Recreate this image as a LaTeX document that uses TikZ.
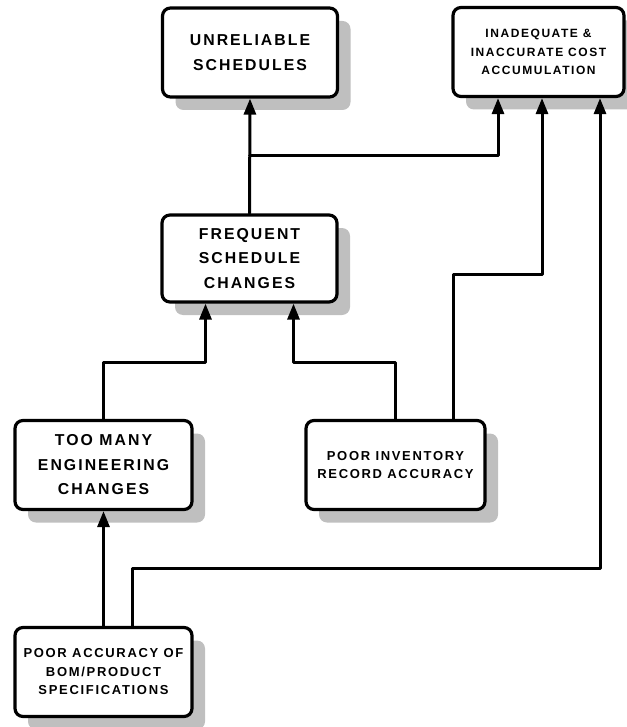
\documentclass[tikz,border=0pt]{standalone}
\usepackage{fontspec}
\setmainfont{Liberation Sans}
\newfontfamily\spacedfont{Liberation Sans}[LetterSpace=13]
\usetikzlibrary{arrows.meta,calc,shadows}

\begin{document}
\begin{tikzpicture}[x=1pt,y=-1pt, line cap=round, line join=round]

% ---------- styles ----------
\tikzset{
  prob/.style={draw, line width=3.2pt, rounded corners=8pt, fill=white, align=center,
    inner sep=2pt, minimum width=175pt, minimum height=89pt,
    drop shadow={shadow xshift=13pt, shadow yshift=-13pt, fill=black!25, opacity=1}},
  bigtxt/.style={font=\spacedfont\bfseries\fontsize{15.8}{24.5}\selectfont},
  smalltxt/.style={font=\spacedfont\bfseries\fontsize{13}{18.5}\selectfont},
  costtxt/.style={font=\spacedfont\bfseries\fontsize{12}{18.5}\selectfont},
  arr/.style={line width=3pt, -{Triangle[length=16pt,width=12pt]}},
}

% ---------- canvas ----------
\useasboundingbox (0,0) rectangle (626,727);

% ---------- problem boxes ----------
\node[prob, bigtxt] (unr) at (250,52.5) {UNRELIABLE\\SCHEDULES};
\node[prob, costtxt, minimum width=171pt] (cost) at (538.5,52)
  {INADEQUATE \&\\INACCURATE COST\\ACCUMULATION};
\node[prob, bigtxt, minimum height=87pt] (fsc) at (249.5,258.5)
  {FREQUENT\\SCHEDULE\\CHANGES};
\node[prob, bigtxt, minimum width=177pt] (tmc) at (103.5,465)
  {TOO MANY\\ENGINEERING\\CHANGES};
\node[prob, smalltxt, minimum width=179pt] (inv) at (395.5,465)
  {POOR INVENTORY\\RECORD ACCURACY};
\node[prob, smalltxt, minimum width=177pt] (bom) at (103.5,672)
  {POOR ACCURACY OF\\BOM/PRODUCT\\SPECIFICATIONS};

% ---------- turning levels ----------
\coordinate (lvlA) at (0,156);
\coordinate (lvlB) at (0,274);
\coordinate (lvlC) at (0,362);
\coordinate (lvlD) at (0,568);

% arrow ends on the cost box and the schedule box
\coordinate (costL) at ($(cost.south)+(-40.5,0)$);
\coordinate (costM) at ($(cost.south)+(3.5,0)$);
\coordinate (costR) at ($(cost.south)+(61.5,0)$);
\coordinate (fscL)  at ($(fsc.south)+(-44,0)$);
\coordinate (fscR)  at ($(fsc.south)+(44,0)$);
\coordinate (invR)  at ($(inv.north)+(57.5,0)$);
\coordinate (bomR)  at ($(bom.north)+(29,0)$);

% ---------- connectors ----------
\draw[arr] (fsc.north) -- (unr.south);
\draw[arr] (fsc.north |- lvlA) -| (costL);

\draw[arr] (tmc.north) -- (tmc.north |- lvlC) -| (fscL);
\draw[arr] (inv.north) -- (inv.north |- lvlC) -| (fscR);
\draw[arr] (invR) -- (invR |- lvlB) -| (costM);

\draw[arr] (bom.north) -- (tmc.south);
\draw[arr] (bomR) -- (bomR |- lvlD) -| (costR);

\end{tikzpicture}
\end{document}
